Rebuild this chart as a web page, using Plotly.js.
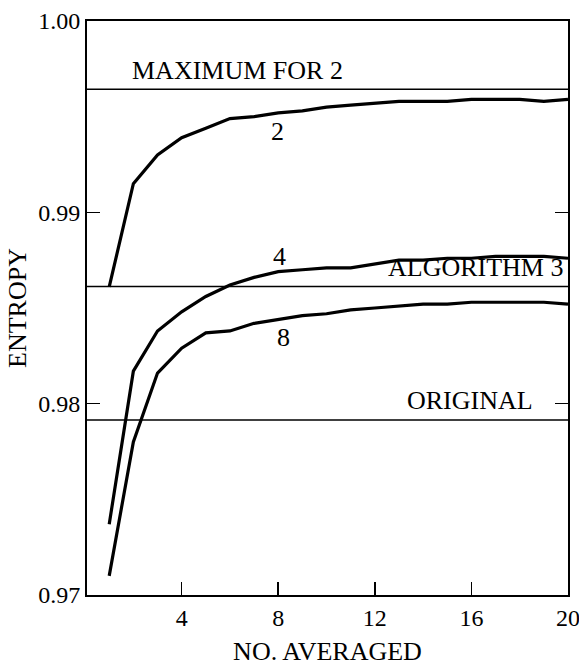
<!DOCTYPE html>
<html>
<head>
<meta charset="utf-8">
<script src="https://cdn.plot.ly/plotly-3.0.1.min.js"></script>
<style>
  html, body { margin: 0; padding: 0; background: #fff; }
  #chart { width: 579px; height: 666px; }
</style>
</head>
<body>
<div id="chart"></div>
<script>
// Number of images averaged
const noAveraged = [1,2,3,4,5,6,7,8,9,10,11,12,13,14,15,16,17,18,19,20];
// Entropy curves (labelled 2, 4, 8)
const entropy2 = [0.9861,0.9915,0.9930,0.9939,0.9944,0.9949,0.9950,0.9952,0.9953,0.9955,
                  0.9956,0.9957,0.9958,0.9958,0.9958,0.9959,0.9959,0.9959,0.9958,0.9959];
const entropy4 = [0.9737,0.9817,0.9838,0.9848,0.9856,0.9862,0.9866,0.9869,0.9870,0.9871,
                  0.9871,0.9873,0.9875,0.9875,0.9876,0.9876,0.9877,0.9877,0.9877,0.9876];
const entropy8 = [0.9710,0.9780,0.9816,0.9829,0.9837,0.9838,0.9842,0.9844,0.9846,0.9847,
                  0.9849,0.9850,0.9851,0.9852,0.9852,0.9853,0.9853,0.9853,0.9853,0.9852];
// Reference levels
const refNames  = ["MAXIMUM FOR 2", "ALGORITHM 3", "ORIGINAL"];
const refLevels = [0.99643, 0.98612, 0.97915];
const curveNames = ["2", "4", "8"];
const xRange = [0.08, 20];
const yRange = [0.97, 1.00];
const xTicks = [4, 8, 12, 16, 20];
const yTicks = [0.97, 0.98, 0.99, 1.00];
const yTickText = ["0.97", "0.98", "0.99", "1.00"];

const FONT = '"Liberation Serif", "Times New Roman", serif';

const traces = [];
refLevels.forEach((lv, i) => {
  traces.push({
    x: xRange, y: [lv, lv], mode: "lines", name: refNames[i],
    line: { color: "#000", width: 1.5 }, hoverinfo: "skip"
  });
});
[entropy2, entropy4, entropy8].forEach((ys, i) => {
  traces.push({
    x: noAveraged, y: ys, mode: "lines", name: curveNames[i],
    line: { color: "#000", width: 3.2 }
  });
});

const annotations = [
  { text: refNames[0], x: 1.85, y: refLevels[0], xanchor: "left", yanchor: "bottom", yshift: 2 },
  { text: refNames[1], x: 19.92, y: refLevels[1], xanchor: "right", yanchor: "bottom", yshift: 3 },
  { text: refNames[2], x: 18.62, y: refLevels[2], xanchor: "right", yanchor: "bottom", yshift: 3 },
  { text: curveNames[0], x: 7.95, y: 0.99425, xanchor: "center", yanchor: "middle" },
  { text: curveNames[1], x: 8.07, y: 0.98767, xanchor: "center", yanchor: "middle" },
  { text: curveNames[2], x: 8.2, y: 0.98348, xanchor: "center", yanchor: "middle" }
].map(a => Object.assign({
  xref: "x", yref: "y", showarrow: false,
  font: { family: FONT, size: 26, color: "#000" }
}, a));

const layout = {
  width: 579, height: 666,
  margin: { l: 87, r: 11, t: 21, b: 71 },
  paper_bgcolor: "#fff", plot_bgcolor: "#fff",
  showlegend: false,
  font: { family: FONT, color: "#000", size: 24 },
  xaxis: {
    range: xRange, tickvals: xTicks, ticktext: xTicks.map(String),
    ticks: "inside", ticklen: 13, tickwidth: 1.5, tickcolor: "#000",
    ticklabeloverflow: "allow",
    showline: true, linecolor: "#000", linewidth: 2, mirror: true,
    showgrid: false, zeroline: false,
    tickfont: { family: FONT, size: 24, color: "#000" },
    title: { text: "NO. AVERAGED", font: { family: FONT, size: 26, color: "#000" }, standoff: 12 }
  },
  yaxis: {
    range: yRange, tickvals: yTicks, ticktext: yTickText,
    ticks: "inside", ticklen: 13, tickwidth: 1.5, tickcolor: "#000",
    ticklabeloverflow: "allow",
    showline: true, linecolor: "#000", linewidth: 2, mirror: "ticks",
    showgrid: false, zeroline: false,
    tickfont: { family: FONT, size: 24, color: "#000" },
    title: { text: "ENTROPY", font: { family: FONT, size: 26, color: "#000" }, standoff: 4 }
  },
  annotations: annotations
};

Plotly.newPlot("chart", traces, layout, { displayModeBar: false, staticPlot: true });
</script>
</body>
</html>
